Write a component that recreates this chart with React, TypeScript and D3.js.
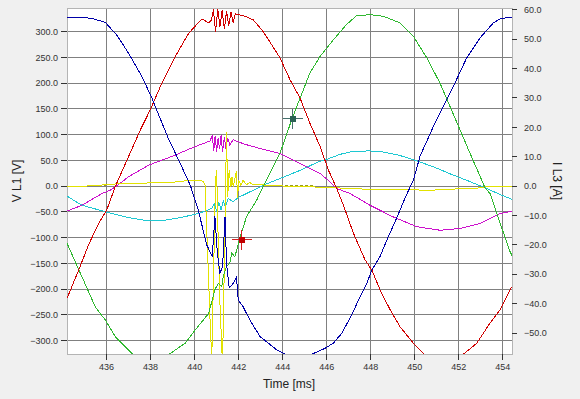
import * as d3 from "d3";

const W = 580;
const H = 399;
const plot = { left: 67, right: 512, top: 8, bottom: 354 };

const timeTicks = [436, 438, 440, 442, 444, 446, 448, 450, 452, 454];
const voltTicks = [-300, -250, -200, -150, -100, -50, 0, 50, 100, 150, 200, 250, 300];
const ampTicks = [-50, -40, -30, -20, -10, 0, 10, 20, 30, 40, 50, 60];

type Pt = [number, number];

// voltages, left axis [V]
const voltBlue: Pt[] = [
  [434.0, 328], [434.2, 328], [434.66, 328], [435.33, 326], [435.94, 318], [436.47, 293],
  [437.0, 258], [437.6, 213], [438.03, 174], [438.36, 139], [438.82, 91], [439.27, 51],
  [439.8, 2], [440.16, -46], [440.55, -114], [440.8, -137], [440.92, -59], [441.03, -130],
  [441.15, -169], [441.27, -156], [441.38, -59], [441.45, -150], [441.57, -198], [441.75, -189],
  [441.9, -176], [441.98, -221], [442.2, -234], [442.51, -260], [442.97, -292], [443.73, -318],
  [444.18, -328], [444.7, -332], [445.24, -328], [445.92, -315], [446.3, -305], [446.68, -286],
  [447.14, -250], [447.51, -215], [447.82, -189], [448.05, -163], [448.42, -137], [448.8, -98],
  [449.18, -62], [449.56, -23], [449.94, 12], [450.24, 58], [450.85, 116], [451.45, 168],
  [451.9, 207], [452.36, 249], [452.97, 288], [453.57, 317], [453.88, 325], [454.33, 328],
  [454.6, 329],
];

const voltRed: Pt[] = [
  [434.0, -240], [434.2, -218], [434.73, -163], [435.18, -114], [435.64, -72], [436.01, -46],
  [436.39, -1], [437.0, 58], [437.53, 109], [437.98, 148], [438.51, 200], [439.12, 252],
  [439.73, 297], [440.33, 325], [440.64, 317], [440.77, 323], [440.85, 343], [440.95, 300],
  [441.05, 344], [441.15, 310], [441.25, 342], [441.35, 305], [441.45, 340], [441.55, 312],
  [441.65, 338], [441.75, 318], [441.85, 335], [441.98, 333], [442.29, 330], [442.66, 323],
  [443.12, 300], [443.88, 249], [444.33, 207], [444.79, 171], [445.24, 122], [445.7, 77],
  [446.07, 32], [446.45, -4], [446.75, -36], [447.21, -91], [447.74, -143], [448.05, -163],
  [448.42, -201], [448.88, -240], [449.33, -273], [449.94, -305], [450.39, -325], [450.9, -336],
  [451.4, -340], [451.85, -335], [452.25, -325], [452.82, -305], [453.42, -266], [453.88, -240],
  [454.33, -201], [454.6, -185],
];

const voltGreen: Pt[] = [
  [434.0, -90], [434.2, -111], [434.88, -176], [435.48, -234], [435.94, -260], [436.39, -292],
  [437.15, -325], [437.6, -338], [438.1, -342], [438.5, -338], [438.89, -325], [439.57, -305],
  [440.03, -279], [440.64, -247], [440.92, -201], [441.07, -189], [441.23, -195], [441.3, -176],
  [441.45, -156], [441.6, -150], [441.68, -130], [441.83, -137], [442.03, -104], [442.36, -59],
  [442.82, -27], [443.12, 0], [443.88, 64], [444.41, 129], [444.79, 171], [445.24, 220],
  [445.7, 252], [446.3, 284], [446.9, 314], [447.36, 331], [447.97, 333], [448.57, 330],
  [449.33, 317], [449.94, 291], [450.55, 249], [451.15, 200], [451.6, 155], [452.06, 109],
  [452.51, 64], [452.97, 19], [453.2, -4], [453.42, -14], [453.88, -72], [454.33, -127],
  [454.6, -150],
];

// currents, right axis [A]
const ampMagenta: Pt[] = [
  [434.0, -9.2], [434.2, -8.5], [434.88, -6.5], [435.79, -2.5], [436.16, -1.4], [436.5, 0.3],
  [437.0, 3.2], [437.9, 7.1], [438.5, 8.8], [439.1, 10.5], [439.5, 11.8], [440.0, 13.4],
  [440.5, 14.8], [440.7, 15.4], [440.8, 17.2], [440.87, 12], [440.93, 17], [441.0, 11.8],
  [441.07, 16.5], [441.13, 12.5], [441.2, 17.3], [441.27, 11.6], [441.35, 16.8], [441.42, 12.5],
  [441.5, 16.5], [441.6, 14], [441.75, 15.8], [441.98, 15.1], [442.3, 14.2], [442.97, 12.8],
  [443.88, 11.1], [444.64, 8.3], [444.79, 7.7], [445.7, 4.3], [446.07, 2], [446.45, -0.8],
  [447.06, -2.5], [447.97, -6.5], [449.0, -10.4], [450.1, -13.8], [451.15, -15], [452.06, -14.4],
  [452.97, -12.7], [453.88, -9.3], [454.33, -8.7], [454.6, -8.5],
];

const ampCyan: Pt[] = [
  [434.0, -2.6], [434.2, -3.4], [434.88, -6.5], [435.94, -8.7], [437.0, -10.7], [437.9, -11.8],
  [438.5, -11.8], [439.42, -10.6], [440.18, -9.3], [440.77, -7.6], [440.9, -6], [441.0, -8.5],
  [441.1, -5.5], [441.2, -8], [441.3, -5], [441.4, -7], [441.53, -4.2], [441.75, -5.3],
  [442.0, -3.8], [442.36, -2.5], [443.12, 0.3], [443.88, 2.6], [444.64, 4.9], [444.79, 5.4],
  [445.7, 8.5], [446.0, 9.1], [446.6, 10.8], [447.1, 11.7], [447.9, 12], [448.5, 11.7],
  [449.3, 10.5], [450.0, 8.8], [450.85, 6.6], [451.6, 4.2], [452.36, 2], [453.27, -0.8],
  [453.8, -2.6], [454.33, -4.2], [454.6, -5],
];

const ampYellow: Pt[] = [
  [434.0, 0], [435.0, 0], [435.5, 0.2], [436.5, 0.8], [437.5, 1.0], [438.5, 1.2],
  [439.4, 1.5], [439.6, 2.0], [440.3, 1.8], [440.4, 1.6], [440.47, 0.5], [440.55, -15],
  [440.65, -35], [440.72, -50], [440.78, -58], [440.86, -30], [440.95, 2], [441.0, 5.4],
  [441.06, -15], [441.15, -40], [441.25, -58], [441.3, -50], [441.38, -10], [441.45, 18.5],
  [441.5, -3.6], [441.57, 5.4], [441.65, -0.2], [441.7, 3.2], [441.75, -0.2], [441.8, 1.5],
  [441.9, 5], [441.95, -4], [442.0, 2], [442.1, 0.3], [442.2, 2.0], [442.35, 0.5],
  [442.5, 1.2], [442.7, 0.4], [443.0, 0.5], [443.5, 0.1], [444.5, 0], [445.5, -0.3],
  [446.5, -0.6], [447.97, -1.1], [449.5, -1.2], [450.7, -1.4], [451.7, -1.0], [452.7, -0.8],
  [453.3, -0.2], [454.0, 0], [454.6, 0],
];

const ampOlive: (Pt | null)[] = [
  [435.2, 0.2], [435.95, 0.2], null, [443.9, 0.2], [445.45, 0.2],
];

// cursors [time, volts]
const cursors = [
  { t: 444.41, v: 132, fill: "#2a6254", stroke: "#46706c" },
  { t: 442.1, v: -103, fill: "#c00000", stroke: "#d42020" },
];

const x = d3.scaleLinear().domain([434.2, 454.42]).range([plot.left, plot.right]);
const yV = d3.scaleLinear().domain([-326, 346]).range([plot.bottom, plot.top]);
const yA = d3.scaleLinear().domain([-57.1, 60.6]).range([plot.bottom, plot.top]);

const lineV = d3.line<Pt>().x(d => x(d[0])).y(d => yV(d[1]));
const lineA = d3.line<Pt | null>()
  .defined(d => d != null)
  .x(d => x((d as Pt)[0]))
  .y(d => yA((d as Pt)[1]));

const series = [
  { d: lineA(ampOlive), color: "#9a9a20", dash: "3,2" },
  { d: lineA(ampCyan), color: "#1ec8d2" },
  { d: lineA(ampMagenta), color: "#cc10cc" },
  { d: lineA(ampYellow), color: "#e2e200" },
  { d: lineV(voltGreen), color: "#30b830" },
  { d: lineV(voltRed), color: "#d00000" },
  { d: lineV(voltBlue), color: "#0000a8" },
];

const font = "'Liberation Sans', Arial, sans-serif";
const fmt = d3.format(".1f");

export default function App() {
  return (
    <svg width={W} height={H} style={{ position: "absolute", left: 0, top: 0 }} fontFamily={font}>
      <defs>
        <clipPath id="plotclip">
          <rect x={plot.left} y={plot.top} width={plot.right - plot.left} height={plot.bottom - plot.top} />
        </clipPath>
      </defs>
      <rect width={W} height={H} fill="#f0f0f0" />
      <rect x={plot.left} y={plot.top} width={plot.right - plot.left} height={plot.bottom - plot.top} fill="#fff" />

      {/* grid */}
      <g stroke="#808080" strokeWidth={1} shapeRendering="crispEdges">
        {timeTicks.map(t => (
          <line key={"gx" + t} x1={x(t)} x2={x(t)} y1={plot.top} y2={plot.bottom} />
        ))}
        {voltTicks.map(v => (
          <line key={"gy" + v} x1={plot.left} x2={plot.right} y1={yV(v)} y2={yV(v)} />
        ))}
      </g>
      <rect x={plot.left} y={plot.top} width={plot.right - plot.left} height={plot.bottom - plot.top}
        fill="none" stroke="#b4b4b4" shapeRendering="crispEdges" />

      {/* traces, drawn aliased like the original */}
      <g clipPath="url(#plotclip)" fill="none" strokeWidth={1} shapeRendering="crispEdges">
        {series.map((s, i) => (
          <path key={i} d={s.d || ""} stroke={s.color} strokeDasharray={s.dash} />
        ))}
      </g>

      {/* cursors */}
      {cursors.map((c, i) => {
        const cx = Math.round(x(c.t)) + 0.5;
        const cy = Math.round(yV(c.v)) + 0.5;
        return (
          <g key={"c" + i} shapeRendering="crispEdges">
            <line x1={cx - 10} x2={cx + 10} y1={cy} y2={cy} stroke={c.stroke} />
            <line x1={cx} x2={cx} y1={cy - 10} y2={cy + 10} stroke={c.stroke} />
            <rect x={cx - 3} y={cy - 3} width={6} height={6} fill={c.fill} />
          </g>
        );
      })}

      {/* axes */}
      <g stroke="#333" shapeRendering="crispEdges">
        {timeTicks.map(t => (
          <line key={"tx" + t} x1={x(t)} x2={x(t)} y1={plot.bottom} y2={plot.bottom + 6} />
        ))}
        {voltTicks.map(v => (
          <line key={"tl" + v} x1={plot.left - 6} x2={plot.left} y1={yV(v)} y2={yV(v)} />
        ))}
        {ampTicks.map(a => (
          <line key={"tr" + a} x1={plot.right} x2={plot.right + 5} y1={yA(a)} y2={yA(a)} />
        ))}
      </g>
      <g fontSize={9} fill="#333">
        {timeTicks.map(t => (
          <text key={"lx" + t} x={x(t)} y={370} textAnchor="middle">{t}</text>
        ))}
        {voltTicks.map(v => (
          <text key={"ll" + v} x={58} y={yV(v)} dy="0.35em" textAnchor="end">{fmt(v)}</text>
        ))}
        {ampTicks.map(a => (
          <text key={"lr" + a} x={524} y={yA(a)} dy="0.35em" textAnchor="start">{fmt(a)}</text>
        ))}
      </g>

      <g fontSize={12} fill="#222">
        <text x={289} y={388} textAnchor="middle">Time [ms]</text>
        <text transform="translate(21,181) rotate(-90)" textAnchor="middle">V L1 [V]</text>
        <text transform="translate(553,181) rotate(90)" textAnchor="middle">I L3 [A]</text>
      </g>
    </svg>
  );
}
